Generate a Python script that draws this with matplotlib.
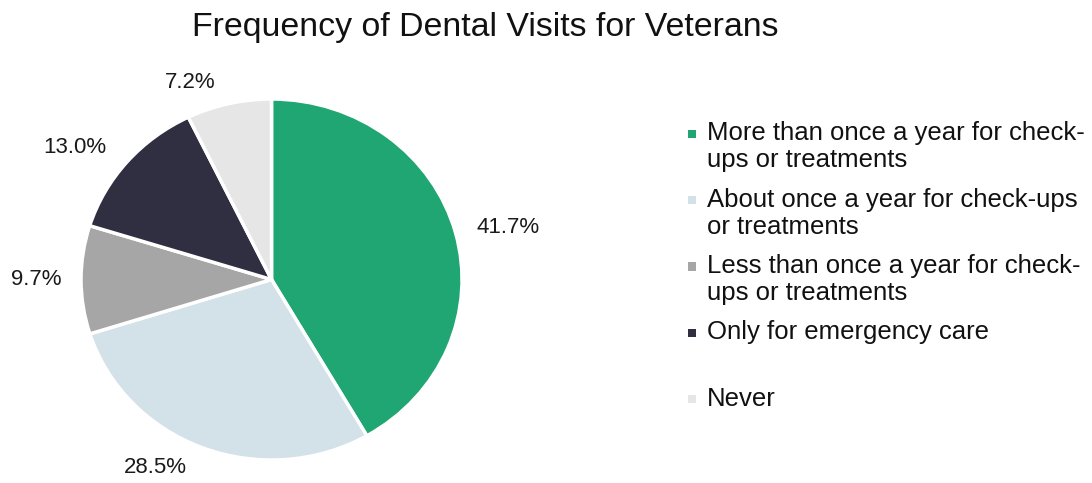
import numpy as np
import matplotlib
matplotlib.use("Agg")
import matplotlib.pyplot as plt
from matplotlib.patches import Rectangle

plt.rcParams['font.family'] = ['Liberation Sans', 'DejaVu Sans']

title = "Frequency of Dental Visits for Veterans"
categories = [
    "More than once a year for check-\nups or treatments",
    "About once a year for check-ups\nor treatments",
    "Less than once a year for check-\nups or treatments",
    "Only for emergency care",
    "Never",
]
values = [41.7, 28.5, 9.7, 13.0, 7.2]
colors = ["#1fa672", "#d3e1e8", "#a6a6a6", "#302f42", "#e6e6e6"]

fig = plt.figure(figsize=(10.92, 4.83), dpi=100)
ax = fig.add_axes([0.0742, 0.0476, 0.3489, 0.7474])

wedges, _ = ax.pie(values, colors=colors, startangle=90, counterclock=False,
                   wedgeprops=dict(edgecolor="white", linewidth=2.5),
                   radius=1.0)
ax.set_xlim(-1, 1)
ax.set_ylim(-1, 1)
ax.set_aspect('auto')
ax.axis('off')

# Percentage labels just outside each wedge, anchored on the side facing the pie
for w, v in zip(wedges, values):
    mid = np.deg2rad((w.theta1 + w.theta2) / 2)
    c, s = np.cos(mid), np.sin(mid)
    side = 1 if c >= 0 else -1
    x = 1.10 * c + side * 0.05 * abs(s)
    y = 1.12 * s
    ax.text(x, y, f"{v:.1f}%", ha='left' if side > 0 else 'right',
            va='center', fontsize=16, color='#1a1a1a', clip_on=False)

fig.text(0.444, 0.943, title, ha='center', va='center', fontsize=24.4,
         color='#111111')

# Legend: square marker aligned with the first line of each entry
x_marker = 0.630
x_text = 0.647
y0 = 1 - 134 / 483
step = 66.3 / 483
for i, (lab, col) in enumerate(zip(categories, colors)):
    y = y0 - i * step
    fig.patches.append(Rectangle((x_marker, y - 0.0085), 0.0075, 0.017,
                                 transform=fig.transFigure, facecolor=col,
                                 edgecolor='none'))
    fig.text(x_text, y + 0.026, lab, ha='left', va='top', fontsize=18.5,
             color='#111111', linespacing=1.15)

fig.savefig("out.png", dpi=100, facecolor='white')
